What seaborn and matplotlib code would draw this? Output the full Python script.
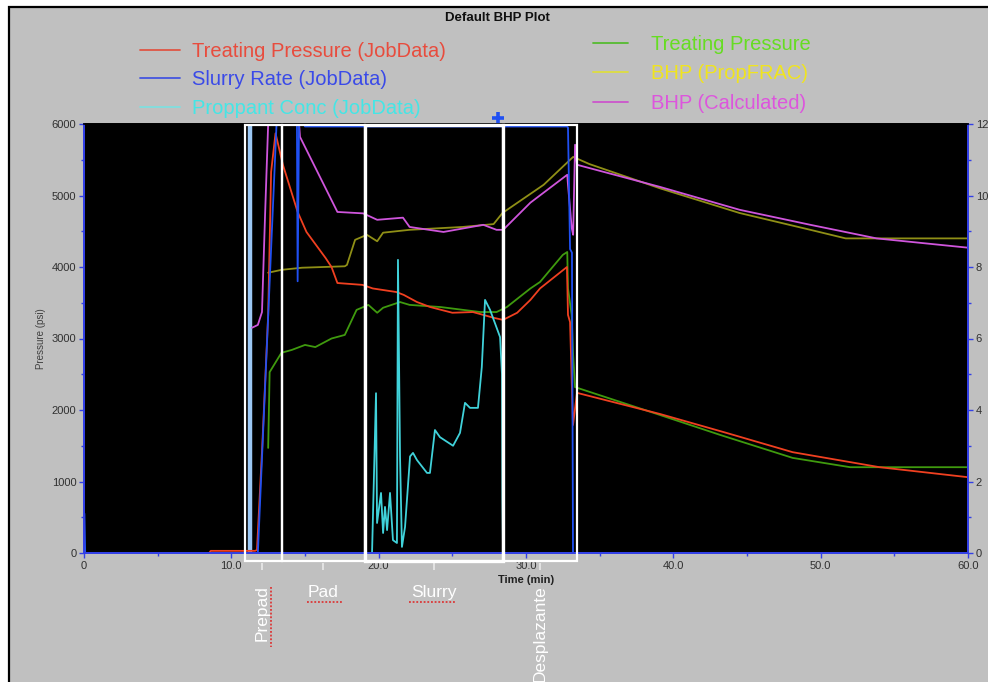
import numpy as np
import pandas as pd
import matplotlib
matplotlib.use("Agg")
import matplotlib.pyplot as plt
import seaborn as sns
from matplotlib.patches import Rectangle
from matplotlib.lines import Line2D
from matplotlib.ticker import MultipleLocator, FuncFormatter

sns.set_theme(style="ticks")
plt.rcParams["font.family"] = ["Liberation Sans", "DejaVu Sans"]

# ---------------- data ----------------
# Treating Pressure (JobData), psi
tp_job_t = [0, 8.5, 8.6, 11.6, 11.74, 12.1, 12.5, 12.7, 13.0, 13.5, 14.5, 15.1, 16.4, 16.8,
            17.2, 18.9, 19.6, 21.2, 21.7, 22.6, 23.5, 25.0, 26.4, 27.8, 28.44, 29.4, 30.3,
            30.95, 32.78, 32.85, 32.99, 33.19, 33.46, 39.1, 43.6, 48.1, 54.0, 60.0]
tp_job_p = [0, 0, 30, 30, 40, 1500, 3330, 5330, 5870, 5430, 4770, 4490, 4125, 4000,
            3776, 3750, 3700, 3650, 3610, 3510, 3440, 3360, 3370, 3290, 3260, 3360, 3540,
            3700, 4000, 3330, 3230, 1790, 2240, 1944, 1680, 1410, 1200, 1060]

# Treating Pressure, psi
tp_t = [12.5, 12.6, 13.4, 14.1, 15.0, 15.7, 16.8, 17.7, 18.5, 19.3, 19.9, 20.3, 21.45,
        22.1, 24.2, 26.9, 28.0, 28.7, 30.3, 30.95, 32.5, 32.8, 32.85, 33.1, 33.2, 33.33,
        39.1, 43.2, 48.1, 52.0, 60.0]
tp_p = [1470, 2530, 2800, 2840, 2910, 2880, 3000, 3050, 3400, 3470, 3360, 3430, 3510,
        3470, 3440, 3370, 3370, 3440, 3700, 3790, 4170, 4210, 3700, 3330, 2770, 2320,
        1930, 1650, 1330, 1200, 1200]

# BHP (PropFRAC), psi
bhp_pf_t = [12.5, 13.4, 14.8, 17.7, 17.85, 18.4, 19.2, 19.9, 20.3, 22.1, 25.7, 27.8,
            28.4, 31.2, 33.2, 34.3, 39.1, 44.5, 49.3, 51.7, 60.0]
bhp_pf_p = [3920, 3960, 3990, 4010, 4030, 4380, 4450, 4360, 4480, 4520, 4560, 4600,
            4755, 5150, 5540, 5440, 5100, 4755, 4520, 4400, 4400]

# BHP (Calculated), psi
bhp_c_t = [11.4, 11.8, 12.08, 12.29, 12.5, 12.7, 14.4, 14.66, 17.2, 18.95, 19.9, 21.65,
           22.1, 24.4, 27.1, 28.0, 28.45, 30.3, 32.8, 32.85, 33.1, 33.2, 33.33, 33.46,
           39.1, 44.5, 49.3, 53.8, 60.0]
bhp_c_p = [3150, 3190, 3370, 4730, 6000, 6600, 6600, 5820, 4770, 4750, 4660, 4690,
           4560, 4490, 4590, 4520, 4520, 4900, 5290, 5150, 4550, 4450, 5710, 5430,
           5120, 4800, 4590, 4400, 4270]

# Slurry Rate (JobData), right axis
rate_t = [0, 0.03, 0.08, 11.8, 13.1, 14.45, 14.5, 14.6, 15.0, 32.78, 32.85, 32.99,
          33.12, 33.19, 60.0]
rate_v = [1.1, 1.1, 0, 0, 12.3, 12.3, 7.6, 12.3, 11.93, 11.93, 11.9, 8.5, 8.4, 0, 0]

# Proppant Conc (JobData), right axis
conc_t = [0, 19.55, 19.82, 19.89, 20.16, 20.3, 20.43, 20.57, 20.77, 20.97, 21.24, 21.31,
          21.45, 21.58, 21.79, 22.13, 22.33, 22.6, 23.28, 23.48, 23.82, 24.16, 25.05,
          25.52, 25.86, 26.2, 26.74, 27.0, 27.22, 27.56, 28.24, 28.37, 28.4, 28.44, 60.0]
conc_v = [0, 0, 4.47, 0.84, 1.68, 0.56, 1.29, 0.64, 1.68, 0.36, 0.28, 8.2, 2.7, 0.17,
          0.73, 2.7, 2.8, 2.6, 2.24, 2.24, 3.44, 3.24, 3.0, 3.36, 4.2, 4.06, 4.06, 5.2,
          7.08, 6.8, 6.04, 5.0, 1.56, 0, 0]

# stage boxes, stage labels, event marker
stage_edges = [10.91, 13.43, 19.07, 28.44, 33.44]
stage_names = ["Prepad", "Pad", "Slurry", "Desplazante"]
stage_label_t = [12.09, 16.22, 23.76, 30.95]
stage_label_rot = [90, 0, 0, 90]
event_t = [11.27]
flag_t = [28.1]
flag_v = [12.17]

legend_left = ["Treating Pressure (JobData)", "Slurry Rate (JobData)", "Proppant Conc (JobData)"]
legend_right = ["Treating Pressure", "BHP (PropFRAC)", "BHP (Calculated)"]

# ---------------- colours ----------------
c_red, c_green, c_olive, c_mag = "#f04020", "#3f9a0e", "#8f8f16", "#cf55dc"
c_blue, c_cyan = "#2050f2", "#40d2da"
spine_blue = "#3340e6"

# ---------------- figure ----------------
W, H = 988, 682
fig = plt.figure(figsize=(W / 100, H / 100), dpi=100, facecolor="white")
fig.add_artist(Rectangle((9 / W, -0.02), 1.0, (H - 7) / H + 0.02, transform=fig.transFigure,
                         facecolor="#c0c0c0", edgecolor="black", lw=1.6, zorder=-10))

ax = fig.add_axes([84 / W, (H - 553) / H, 884 / W, 429 / H])
ax.set_facecolor("black")
ax2 = ax.twinx()

kw = dict(estimator=None, sort=False, legend=False, linewidth=1.3)
sns.lineplot(x=bhp_pf_t, y=bhp_pf_p, ax=ax, color=c_olive, **kw)
sns.lineplot(x=tp_t, y=tp_p, ax=ax, color=c_green, **kw)
sns.lineplot(x=bhp_c_t, y=bhp_c_p, ax=ax, color=c_mag, **kw)
sns.lineplot(x=tp_job_t, y=tp_job_p, ax=ax, color=c_red, **kw)

sns.lineplot(x=conc_t, y=conc_v, ax=ax2, color=c_cyan, **kw)
sns.lineplot(x=rate_t, y=rate_v, ax=ax2, color=c_blue, **kw)
ax2.plot(flag_t, flag_v, marker="+", ms=9, mew=2.6, color=c_blue, ls="none", clip_on=False)

for t in event_t:
    ax.axvline(t, color="#9cc8f4", lw=3.2, zorder=1)

# stage boxes
trans = ax2.get_xaxis_transform()
for i in range(len(stage_edges) - 1):
    x0, x1 = stage_edges[i], stage_edges[i + 1]
    lw = 2.4 if stage_names[i] == "Slurry" else 1.6
    ax2.add_patch(Rectangle((x0, -0.019), x1 - x0, 1.016, transform=trans, fill=False,
                            edgecolor="white", lw=lw, clip_on=False, zorder=5))

# axes styling
ax.set_xlim(0, 60)
ax.set_ylim(0, 6000)
ax2.set_ylim(0, 12)
ax.xaxis.set_major_locator(MultipleLocator(10))
ax.xaxis.set_minor_locator(MultipleLocator(5))
ax.yaxis.set_major_locator(MultipleLocator(1000))
ax.yaxis.set_minor_locator(MultipleLocator(500))
ax2.yaxis.set_major_locator(MultipleLocator(2))
ax2.yaxis.set_minor_locator(MultipleLocator(1))
ax.xaxis.set_major_formatter(FuncFormatter(lambda v, p: "0" if v == 0 else f"{v:.1f}"))
ax.grid(False)
ax2.grid(False)

for a in (ax, ax2):
    for side in ("left", "bottom", "right"):
        a.spines[side].set_color(spine_blue)
        a.spines[side].set_linewidth(1.4)
    a.spines["top"].set_color("black")
    a.tick_params(which="both", direction="out", color=spine_blue, labelcolor="#303030",
                  labelsize=8, width=1.0, pad=2)
    a.tick_params(which="major", length=3.5)
    a.tick_params(which="minor", length=2.5)

ax.set_xlabel("Time (min)", fontsize=8, fontweight="bold", color="#202020", labelpad=3)
ax.set_ylabel("Pressure (psi)", fontsize=7, color="#404040", labelpad=4)

# stage labels as a secondary x axis
sec = ax.secondary_xaxis(location=-0.023)
sec.set_xticks(stage_label_t, labels=stage_names)
sec.tick_params(axis="x", length=5, width=1.3, color="#e6e6e6", labelcolor="white",
                labelsize=12.5, pad=11)
for s in sec.spines.values():
    s.set_visible(False)
for lbl, rot in zip(sec.get_xticklabels(), stage_label_rot):
    lbl.set_rotation(rot)

# spell-check squiggles under the stage labels
for (xa, xb, ya, yb) in [(307, 343, 602, 602), (409, 455, 602, 602), (271, 271, 587, 647)]:
    fig.add_artist(Line2D([xa / W, xb / W], [1 - ya / H, 1 - yb / H], transform=fig.transFigure,
                          color="#e02020", lw=1.1, ls=(0, (1.2, 1.2))))

# title
fig.text(497 / W, 1 - 18 / H, "Default BHP Plot", ha="center", va="center",
         fontsize=9.5, fontweight="bold", color="#101010")

# legends
left_line_cols = ["#e05545", "#4455e0", "#7fdede"]
left_text_cols = ["#e84c3d", "#3a4ae8", "#44e6e6"]
right_line_cols = ["#55bb30", "#dddd40", "#cc55cc"]
right_text_cols = ["#66dd22", "#f0e41e", "#dd55dd"]

h1 = [Line2D([], [], color=c, lw=1.3) for c in left_line_cols]
leg1 = fig.legend(h1, legend_left, loc="upper left", bbox_to_anchor=(140 / W, 1 - 42 / H),
                  frameon=False, fontsize=14.5, handlelength=2.0, handletextpad=0.6,
                  labelspacing=0.47, borderpad=0, borderaxespad=0)
for t, c in zip(leg1.get_texts(), left_text_cols):
    t.set_color(c)

h2 = [Line2D([], [], color=c, lw=1.3) for c in right_line_cols]
leg2 = fig.legend(h2, legend_right, loc="upper left", bbox_to_anchor=(593 / W, 1 - 35 / H),
                  frameon=False, fontsize=14.5, handlelength=1.75, handletextpad=1.15,
                  labelspacing=0.52, borderpad=0, borderaxespad=0)
for t, c in zip(leg2.get_texts(), right_text_cols):
    t.set_color(c)

fig.savefig("out.png", dpi=100, facecolor=fig.get_facecolor())
